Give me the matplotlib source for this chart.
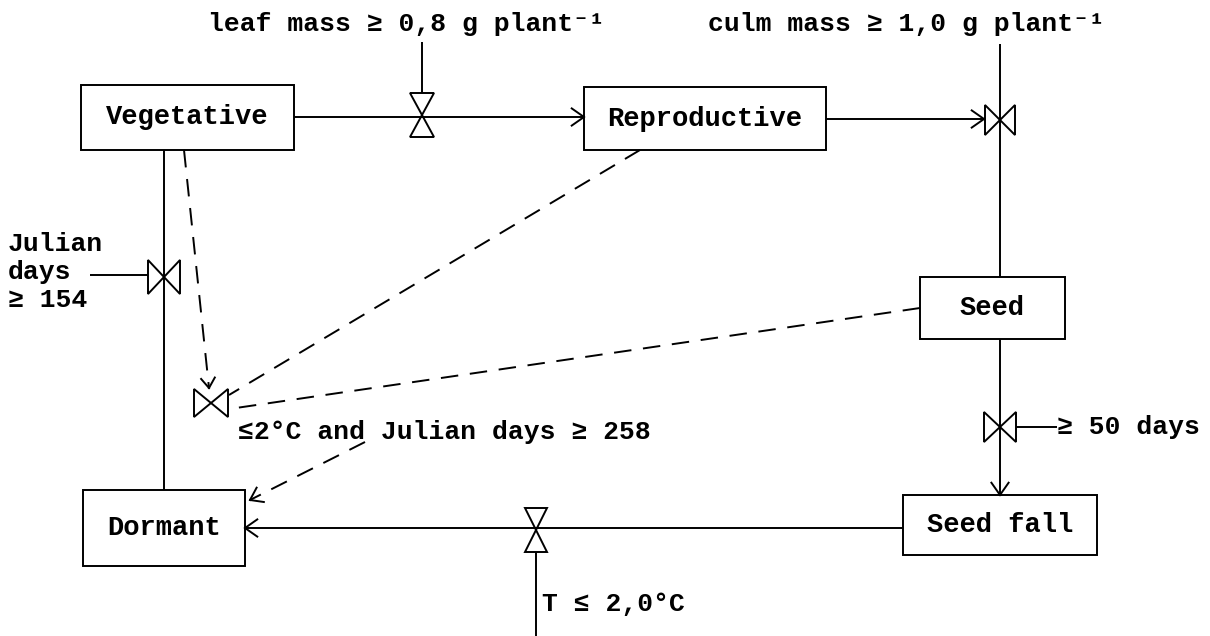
import numpy as np
import matplotlib.pyplot as plt
from matplotlib.patches import Rectangle, Polygon

plt.rcParams['font.family'] = ['Liberation Mono', 'DejaVu Sans Mono']

# state boxes (pixel coordinates, y downwards)
stages = ['Vegetative', 'Reproductive', 'Seed', 'Seed fall', 'Dormant']
box_x0 = [81, 584, 920, 903, 83]
box_x1 = [294, 826, 1065, 1097, 245]
box_y0 = [85, 87, 277, 495, 490]
box_y1 = [150, 150, 339, 555, 566]

# transition conditions
conditions = ['leaf mass ≥ 0,8 g plant⁻¹', 'culm mass ≥ 1,0 g plant⁻¹',
              'Julian\ndays\n≥ 154', '≥ 50 days',
              '≤2°C and Julian days ≥ 258', 'T ≤ 2,0°C']
cond_x = [208, 708, 8, 1057, 238, 542]
cond_y = [24, 24, 272, 427, 432, 604]

LW = 1.4


def line(x0, y0, x1, y1, dashed=False):
    ls = (0, (9, 6)) if dashed else '-'
    ax.plot([x0, x1], [y0, y1], color='black', lw=LW, ls=ls,
            solid_capstyle='butt')


def head(x0, y0, x1, y1, size=15):
    a = np.arctan2(y1 - y0, x1 - x0)
    for s in (1, -1):
        b = a + np.pi + s * np.radians(35)
        ax.plot([x1, x1 + size * np.cos(b)], [y1, y1 + size * np.sin(b)],
                color='black', lw=LW)


def valve(cx, cy, upright, w=12, h=22):
    if upright:
        tris = [[(cx - w, cy - h), (cx + w, cy - h), (cx, cy)],
                [(cx - w, cy + h), (cx + w, cy + h), (cx, cy)]]
    else:
        tris = [[(cx - w, cy - h), (cx - w, cy + h), (cx, cy)],
                [(cx + w, cy - h), (cx + w, cy + h), (cx, cy)]]
    for t in tris:
        ax.add_patch(Polygon(t, closed=True, fill=False, ec='black', lw=LW))


fig = plt.figure(figsize=(12.1, 6.36), dpi=100)
ax = fig.add_axes([0, 0, 1, 1])
ax.set_xlim(0, 1210)
ax.set_ylim(636, 0)
ax.axis('off')

for name, x0, x1, y0, y1 in zip(stages, box_x0, box_x1, box_y0, box_y1):
    ax.add_patch(Rectangle((x0, y0), x1 - x0, y1 - y0, fill=False,
                           ec='black', lw=LW))
    ax.text((x0 + x1) / 2, (y0 + y1) / 2, name, ha='center', va='center',
            fontsize=19.5, fontweight='bold')

for t, x, y in zip(conditions, cond_x, cond_y):
    ax.text(x, y, t, ha='left', va='center', fontsize=19, fontweight='bold',
            linespacing=1.2)

# Vegetative -> Reproductive
line(294, 117, 584, 117)
head(294, 117, 584, 117)
valve(422, 115, True)
line(422, 42, 422, 93)

# Reproductive -> Seed
line(826, 119, 984, 119)
head(826, 119, 984, 119)
valve(1000, 120, False, w=15, h=15)
line(1000, 44, 1000, 277)

# Seed -> Seed fall
line(1000, 339, 1000, 495)
head(1000, 339, 1000, 495)
valve(1000, 427, False, w=16, h=15)
line(1016, 427, 1057, 427)

# Seed fall -> Dormant
line(903, 528, 245, 528)
head(903, 528, 245, 528)
valve(536, 530, True, w=11, h=22)
line(536, 552, 536, 636)

# Vegetative -> Dormant
line(164, 150, 164, 490)
valve(164, 277, False, w=16, h=17)
line(90, 275, 148, 275)

# dashed info lines to the frost valve
line(184, 150, 209, 388, dashed=True)
head(184, 150, 209, 388, size=12)
line(640, 150, 229, 395, dashed=True)
line(920, 308, 229, 409, dashed=True)
valve(211, 403, False, w=17, h=14)
line(365, 442, 250, 500, dashed=True)
head(365, 442, 250, 500, size=14)

fig.savefig('out.png', dpi=100)
